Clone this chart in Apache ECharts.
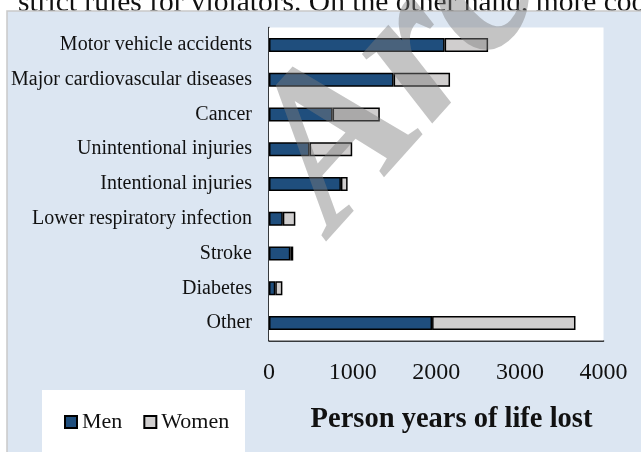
<!DOCTYPE html>
<html>
<head>
<meta charset="utf-8">
<script src="https://cdn.jsdelivr.net/npm/echarts@6/dist/echarts.min.js"></script>
<style>
  html, body { margin: 0; padding: 0; background: #ffffff; }
  #chart { width: 641px; height: 452px; }
</style>
</head>
<body>
<div id="chart"></div>
<script>
// Causes of death, person years of life lost by sex
const categories = [
  'Motor vehicle accidents',
  'Major cardiovascular diseases',
  'Cancer',
  'Unintentional injuries',
  'Intentional injuries',
  'Lower respiratory infection',
  'Stroke',
  'Diabetes',
  'Other'
];
const menValues   = [2100, 1490, 760, 485, 860, 165, 255, 75, 1950];
const womenValues = [520, 675, 565, 510, 80, 150, 35, 85, 1715];
const xTicks = [0, 1000, 2000, 3000, 4000];

const serif = '"Liberation Serif", "DejaVu Serif", serif';

const chart = echarts.init(document.getElementById('chart'), null, { renderer: 'canvas' });

chart.setOption({
  animation: false,
  backgroundColor: '#ffffff',
  grid: {
    left: 269, right: 37.5, top: 27.5, bottom: 111.5,
    show: true, backgroundColor: '#ffffff', borderWidth: 0, z: 1
  },
  xAxis: {
    type: 'value',
    min: xTicks[0],
    max: xTicks[xTicks.length - 1],
    interval: xTicks[1] - xTicks[0],
    axisLine: { show: true, lineStyle: { color: '#000', width: 1.5 } },
    axisTick: { show: false },
    splitLine: { show: false },
    axisLabel: {
      color: '#111', fontFamily: serif, fontSize: 24, margin: 20,
      formatter: v => String(v)
    }
  },
  yAxis: {
    type: 'category',
    data: categories,
    inverse: true,
    axisLine: { show: true, lineStyle: { color: '#000', width: 1.5 } },
    axisTick: { show: false },
    axisLabel: { color: '#111', fontFamily: serif, fontSize: 20, margin: 17 }
  },
  legend: {
    data: ['Men', 'Women'],
    left: 59, top: 406,
    icon: 'rect',
    itemWidth: 12, itemHeight: 12, itemGap: 21,
    textStyle: { color: '#111', fontFamily: serif, fontSize: 22 },
    z: 10
  },
  series: [
    {
      name: 'Men', type: 'bar', stack: 'total', data: menValues,
      barWidth: 14,
      itemStyle: { color: '#1F4E7D', borderColor: '#000', borderWidth: 1.5 }
    },
    {
      name: 'Women', type: 'bar', stack: 'total', data: womenValues,
      barWidth: 14,
      itemStyle: { color: '#D0CECE', borderColor: '#000', borderWidth: 1.5 }
    }
  ],
  graphic: [
    // running text of the page above the figure
    {
      type: 'text', left: 18, top: -12, z: -10,
      style: { text: 'strict rules for violators. On the other hand, more coo', font: '29.5px ' + serif, fill: '#111' }
    },
    // light blue chart frame
    {
      type: 'rect', z: -5, silent: true,
      shape: { x: 7, y: 11, width: 660, height: 460 },
      style: { fill: '#DCE6F2', stroke: '#c9c9c9', lineWidth: 1.5 }
    },
    // legend panel
    {
      type: 'rect', z: -4, silent: true,
      shape: { x: 42, y: 390, width: 203, height: 70 },
      style: { fill: '#ffffff' }
    },
    // axis title
    {
      type: 'text', x: 451.5, y: 420, z: 5,
      style: { text: 'Person years of life lost', font: 'bold 28.5px ' + serif, fill: '#111', textAlign: 'center', textVerticalAlign: 'middle' }
    },
    // watermark
    {
      type: 'text', x: 372, y: 268, z: 100, rotation: 48 * Math.PI / 180, silent: true,
      style: { text: 'Arc', font: 'italic bold 215px ' + serif, fill: 'rgba(124,124,124,0.45)', textAlign: 'left', textVerticalAlign: 'bottom' }
    }
  ]
});
</script>
</body>
</html>
